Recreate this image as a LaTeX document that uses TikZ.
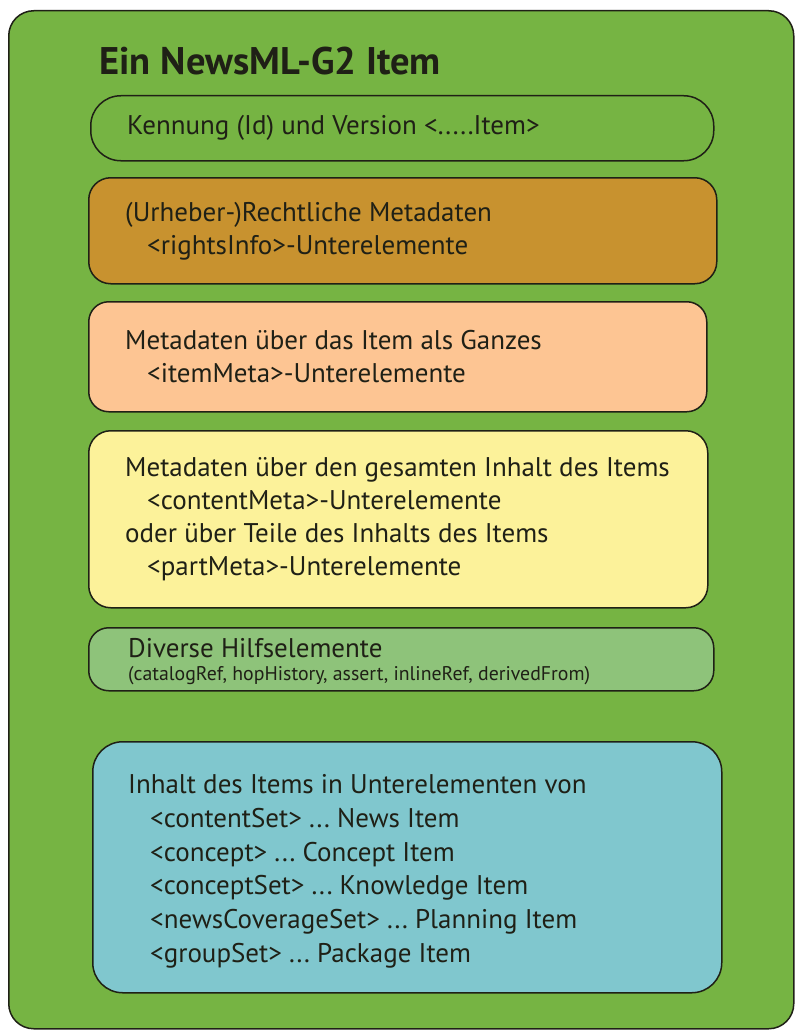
\documentclass[tikz,border=0pt]{standalone}
\usepackage{fontspec}
\setmainfont{PT Sans}
\usetikzlibrary{positioning}
\definecolor{itemgreen}{HTML}{76B443}
\definecolor{rightsbrown}{HTML}{C8922F}
\definecolor{metapeach}{HTML}{FDC593}
\definecolor{contentyellow}{HTML}{FCF29A}
\definecolor{helpgreen}{HTML}{8EC37A}
\definecolor{setcyan}{HTML}{80C7CE}
\definecolor{edge}{HTML}{1F2016}
\newcommand{\ind}{\hspace*{22pt}}
\frenchspacing

\begin{document}
\begin{tikzpicture}[x=1pt, y=-1pt]
      \tikzstyle{every node}=[font=\fontsize{27}{33}\selectfont, text=edge]
      \tikzstyle{part}=[draw=edge, line width=1.5pt, anchor=north west, inner sep=0pt]
      \tikzstyle{txt}=[align=left, inner sep=0pt]
      \useasboundingbox (0,0) rectangle (795,1030);
      %%
  \node (item) at (8,10) [part, fill=itemgreen, rounded corners=25pt, minimum width=785pt, minimum height=1018pt] {};
  \node (title) at (96,75) [anchor=base west, font=\fontsize{38.5}{44}\selectfont\bfseries] {Ein NewsML-G2 Item};
  \node (id) at (90,95) [part, fill=itemgreen, rounded corners=30pt, minimum width=623pt, minimum height=65pt] {};
  \node (rights) at (88,177) [part, fill=rightsbrown, rounded corners=22pt, minimum width=628pt, minimum height=106pt] {};
  \node (itemmeta) at (88,301) [part, fill=metapeach, rounded corners=20pt, minimum width=618pt, minimum height=110pt] {};
  \node (contentmeta) at (88,430) [part, fill=contentyellow, rounded corners=22pt, minimum width=619pt, minimum height=177pt] {};
  \node (helper) at (88,627) [part, fill=helpgreen, rounded corners=20pt, minimum width=625pt, minimum height=63pt] {};
  \node (content) at (92,741) [part, fill=setcyan, rounded corners=30pt, minimum width=629pt, minimum height=251pt] {};
  %% texts
  \node (idtxt) [txt, right=37pt of id.west] {Kennung (Id) und Version <.....Item>};
  \node (rightstxt) [txt, right=37pt of rights.west] {(Urheber-)Rechtliche Metadaten\\ \ind<rightsInfo>-Unterelemente};
  \node (itemmetatxt) [txt, right=37pt of itemmeta.west] {Metadaten über das Item als Ganzes\\ \ind<itemMeta>-Unterelemente};
  \node (contentmetatxt) [txt, right=37pt of contentmeta.west] {Metadaten über den gesamten Inhalt des Items\\ \ind<contentMeta>-Unterelemente\\ oder über Teile des Inhalts des Items\\ \ind<partMeta>-Unterelemente};
  \node (helpertxt) [txt, right=40pt of helper.west, yshift=-2pt] {Diverse Hilfselemente\\[-10pt] {\fontsize{19.8}{22}\selectfont(catalogRef, hopHistory, assert, inlineRef, derivedFrom)}};
  \node (contenttxt) [txt, right=36pt of content.west, yshift=-4pt, font=\fontsize{27}{33.8}\selectfont] {Inhalt des Items in Unterelementen von\\ \ind<contentSet> ... News Item\\ \ind<concept> ... Concept Item\\ \ind<conceptSet> ... Knowledge Item\\ \ind<newsCoverageSet> ... Planning Item\\ \ind<groupSet> ... Package Item};
%
\end{tikzpicture}
\end{document}
